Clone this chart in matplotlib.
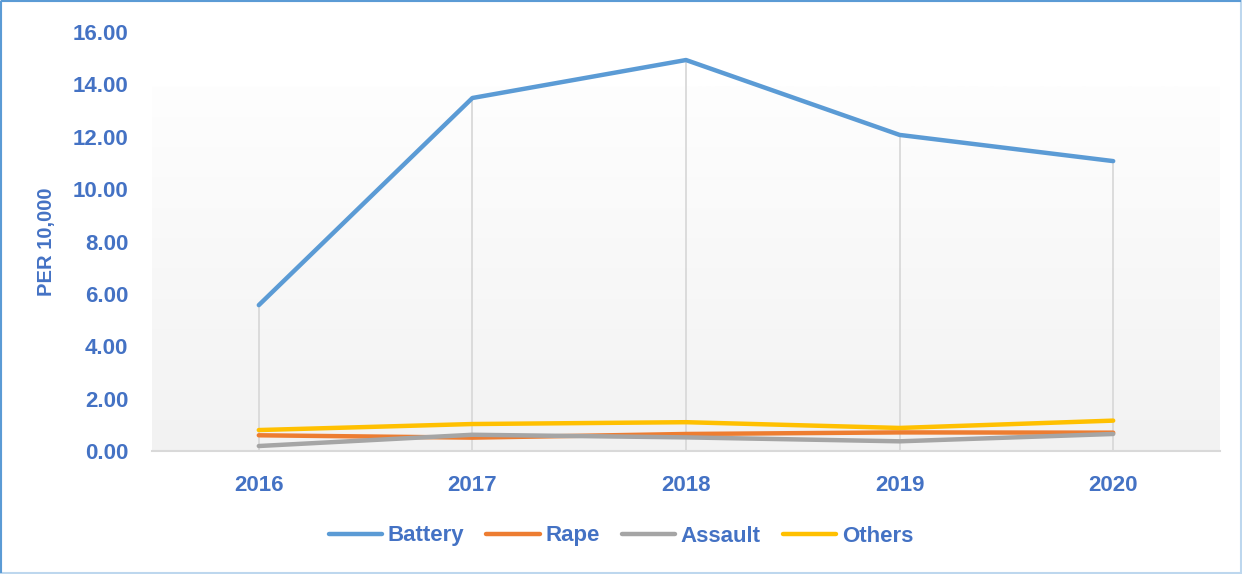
import numpy as np
import matplotlib
matplotlib.use("Agg")
import matplotlib.pyplot as plt
from matplotlib.colors import LinearSegmentedColormap
from matplotlib.patches import Rectangle

years = ["2016", "2017", "2018", "2019", "2020"]
battery = [5.57, 13.48, 14.93, 12.07, 11.07]
rape = [0.60, 0.51, 0.65, 0.71, 0.70]
assault = [0.19, 0.62, 0.52, 0.37, 0.65]
others = [0.80, 1.03, 1.10, 0.88, 1.16]

series_names = ["Battery", "Rape", "Assault", "Others"]
series_colors = ["#5B9BD5", "#ED7D31", "#A5A5A5", "#FFC000"]
text_color = "#4472C4"

plt.rcParams['font.family'] = ['Liberation Sans', 'DejaVu Sans']
plt.rcParams['font.weight'] = 'bold'

fig = plt.figure(figsize=(12.42, 5.74), dpi=100)
ax = fig.add_axes([152 / 1242, 1 - 451 / 574, (1220 - 152) / 1242, (451 - 32) / 574])

# plot area fill: gradient, white at top -> light grey at bottom
cmap = LinearSegmentedColormap.from_list("bg", ["#fefefe", "#f2f2f2"])
grad = np.linspace(0, 1, 256).reshape(-1, 1)
bg_top = (451 - 86) / (451 - 32)
ax.imshow(grad, cmap=cmap, aspect="auto", extent=[0, 1, 0, bg_top],
          transform=ax.transAxes, zorder=0, origin="upper")

x = np.arange(len(years))
# drop lines from the highest series down to the axis
ax.vlines(x, 0, battery, color="#d9d9d9", lw=1.3, zorder=1)
for vals, name, col in zip([battery, rape, assault, others], series_names, series_colors):
    ax.plot(x, vals, color=col, lw=3.2, label=name, solid_capstyle="round", zorder=3)

ax.set_xlim(-0.5, len(years) - 0.5)
ax.set_ylim(0, 16)
ax.set_xticks(x)
ax.set_xticklabels(years, fontweight="bold")
yt = np.arange(0, 17, 2)
ax.set_yticks(yt)
ax.set_yticklabels([f"{v:.2f}" for v in yt], fontweight="bold")
ax.tick_params(axis="both", length=0, labelsize=16, labelcolor=text_color)
ax.tick_params(axis="x", pad=17)
ax.tick_params(axis="y", pad=17)
for s in ["top", "right", "left"]:
    ax.spines[s].set_visible(False)
ax.spines["bottom"].set_color("#d9d9d9")
ax.spines["bottom"].set_linewidth(1.5)

ax.set_ylabel("PER 10,000", fontsize=14.5, color=text_color, fontweight="bold", labelpad=12)

leg = fig.legend(loc="center", bbox_to_anchor=(0.5, 1 - 536 / 574), ncol=4, frameon=False,
                 prop={"size": 16, "weight": "bold"}, handlelength=2.4,
                 columnspacing=1.0, handletextpad=0.25)
for t in leg.get_texts():
    t.set_color(text_color)

# outer chart border
fig.patches.append(Rectangle((0.001, 0.002), 0.998, 0.996, transform=fig.transFigure,
                             fill=False, edgecolor="#BDD7EE", lw=1.5))
fig.patches.append(Rectangle((0.001, 0.002), 0.0, 0.996, transform=fig.transFigure,
                             fill=False, edgecolor="#5B9BD5", lw=1.5))
fig.patches.append(Rectangle((0.001, 0.998), 0.998, 0.0, transform=fig.transFigure,
                             fill=False, edgecolor="#5B9BD5", lw=1.5))

fig.savefig("out.png", dpi=100)
